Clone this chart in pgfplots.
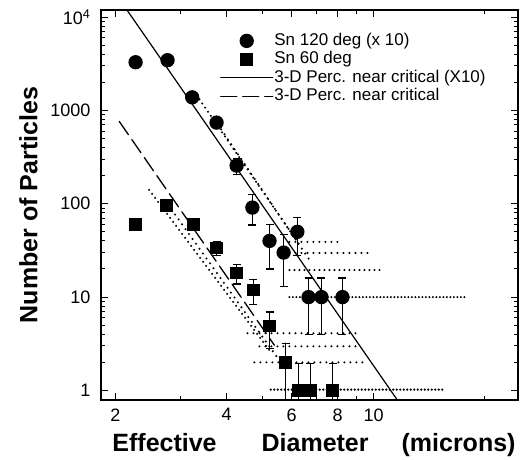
\documentclass[border=0pt]{standalone}
\usepackage{pgfplots}
\pgfplotsset{compat=1.18}
\usepackage{fontspec}
\setmainfont{Liberation Sans}

\begin{document}
\begin{tikzpicture}
\begin{axis}[
    name=ax,
    xmode=log, ymode=log,
    scale only axis,
    width=417pt, height=390pt,
    xmin=1.83, xmax=24.6,
    ymin=0.79, ymax=11900,
    xtick={2,4,6,8,10},
    xticklabels={2,4,6,8,10},
    minor xtick={3,5,7,9,20},
    ytick={1,10,100,1000,10000},
    yticklabels={1,10,100,1000,10\textsuperscript{4}},
    minor ytick={2,3,4,5,6,7,8,9,20,30,40,50,60,70,80,90,200,300,400,500,600,700,800,900,2000,3000,4000,5000,6000,7000,8000,9000},
    tick label style={font=\fontsize{18}{18}\selectfont},
    yticklabel style={xshift=-7pt},
    xticklabel style={yshift=-5pt},
    major tick length=7pt, minor tick length=4pt,
    every tick/.style={black, line width=1pt},
    axis line style={line width=1.4pt},
    xlabel={Effective\hspace{45pt}Diameter\hspace{33pt}(microns)},
    ylabel={Number of Particles},
    label style={font=\bfseries\fontsize{25}{25}\selectfont},
    x label style={xshift=4.5pt, yshift=-5pt},
    y label style={yshift=6pt},
    legend style={at={(0.285,0.945)}, anchor=north west, draw=none, fill=none,
        font=\fontsize{17}{19}\selectfont, row sep=0pt, inner sep=0pt,
        nodes={inner sep=1pt, text height=12.5pt, text depth=4pt}},
    legend cell align=left,
    legend image code/.code={\draw[mark repeat=2,mark phase=2,#1] plot coordinates {(0pt,0pt) (26pt,0pt) (52pt,0pt)};},
]
% Sn 120 deg (x 10)
\addplot[only marks, mark=*, mark size=6pt, black,
    error bars/.cd, y dir=both, y explicit,
    error bar style={line width=1.3pt},
    error mark options={rotate=90, mark size=4pt, line width=1.3pt}]
coordinates {
    (2.27,3280) +- (0,0)
    (2.77,3450) +- (0,0)
    (3.23,1380) +- (0,0)
    (3.76,740) +- (0,85)
    (4.26,256) +- (0,50)
    (4.70,91) += (0,34) -= (0,32)
    (5.23,40) +- (0,20)
    (5.71,30) +- (0,17)
    (6.22,50) += (0,21) -= (0,22)
    (6.67,10) +- (0,6)
    (7.23,10) +- (0,6)
    (8.24,10) +- (0,6)
};
\addlegendentry{Sn 120 deg (x 10)}
% Sn 60 deg
\addplot[only marks, mark=square*, mark size=5.3pt, black,
    error bars/.cd, y dir=both, y explicit,
    error bar style={line width=1.3pt},
    error mark options={rotate=90, mark size=4pt, line width=1.3pt}]
coordinates {
    (2.27,59.5) +- (0,0)
    (2.75,95) +- (0,0)
    (3.25,59.5) +- (0,0)
    (3.76,33.6) +- (0,5.8)
    (4.26,18.1) +- (0,4.3)
    (4.73,11.9) +- (0,3.5)
    (5.23,4.9) += (0,2.0) -= (0,2.1)
    (5.78,2.0) += (0,1.2) -= (0,1.4)
    (6.27,1) += (0,0.95) -= (0,0.9)
    (6.75,1) += (0,0.95) -= (0,0.9)
    (7.75,1) += (0,0.95) -= (0,0.9)
};
\addlegendentry{Sn 60 deg}
% 3-D percolation near critical (x10)
\addplot[black, line width=1.2pt] coordinates {(2.142,12190) (11.62,0.781)};
\addlegendentry{3-D Perc. near critical (X10)}
% 3-D percolation near critical
\addplot[black, line width=1.3pt, dash pattern=on 16pt off 6pt] coordinates {(2.05,762) (5.39,3.05)};
\addlegendentry{3-D Perc. near critical}
% scattered simulation runs (dotted)
\pgfplotsset{every axis plot/.append style={forget plot, black, line width=2.3pt, line cap=round}}
\addplot[dash pattern=on 0pt off 5pt] coordinates {(3.38,1313) (6.30,36.3)};
\addplot[dash pattern=on 0pt off 6pt] coordinates {(3.71,800) (6.71,25)};
\addplot[dash pattern=on 0pt off 5pt] coordinates {(2.47,141) (5.23,2.69)};
\addplot[dash pattern=on 0pt off 6pt] coordinates {(2.72,110) (5.56,2.1)};
\addplot[dash pattern=on 0pt off 6pt] coordinates {(5.92,39) (8.24,39)};
\addplot[dash pattern=on 0pt off 6pt] coordinates {(5.92,29.7) (9.94,29.7)};
\addplot[dash pattern=on 0pt off 5pt] coordinates {(5.92,19.5) (10.7,19.5)};
\addplot[dash pattern=on 0pt off 3.5pt] coordinates {(5.92,10) (17.7,10)};
\addplot[dash pattern=on 0pt off 6pt] coordinates {(4.56,4.1) (9.0,4.1)};
\addplot[dash pattern=on 0pt off 6pt] coordinates {(4.91,2.97) (9.0,2.97)};
\addplot[dash pattern=on 0pt off 6pt] coordinates {(4.76,2.0) (9.6,2.0)};
\addplot[dash pattern=on 0pt off 3.5pt] coordinates {(5.27,1.02) (15.6,1.02)};
\end{axis}
\path ([shift={(-101pt,-56pt)}]ax.south west) rectangle ([shift={(6pt,10pt)}]ax.north east);
\end{tikzpicture}
\end{document}
